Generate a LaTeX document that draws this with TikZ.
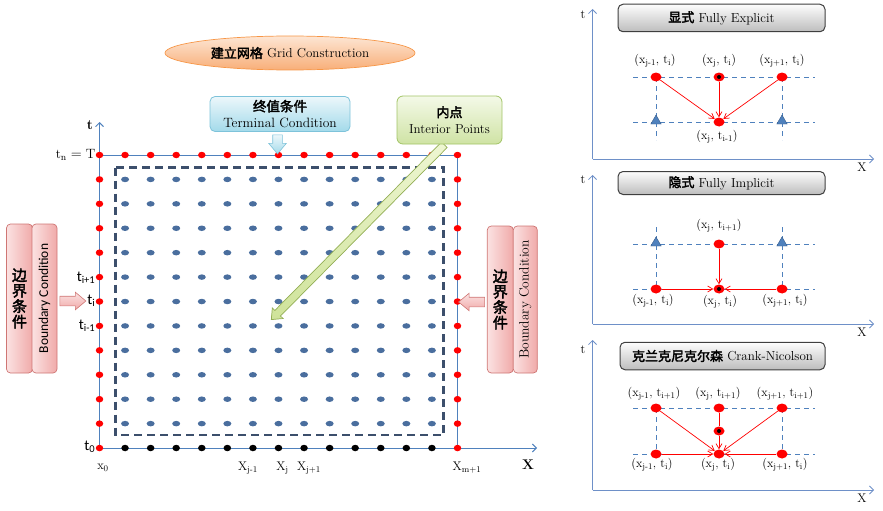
\documentclass[tikz,border=0pt]{standalone}
\usepackage{fontspec}
\newfontfamily\cjkb{Noto Sans CJK SC}[AutoFakeBold=2.5]
\newfontfamily\calfont{Carlito}
\usetikzlibrary{shapes.geometric,shapes.arrows,arrows.meta}
\definecolor{axisblue}{HTML}{4F81BD}
\definecolor{paxis}{HTML}{6E90C8}
\definecolor{dotblue}{HTML}{4A6E9E}
\definecolor{dashslate}{HTML}{3C4F6C}
\definecolor{gridred}{HTML}{FF0000}
\definecolor{ellB}{HTML}{F79646}
\definecolor{ellT}{HTML}{FDE6D4}
\definecolor{ellM}{HTML}{F8AE78}
\definecolor{termB}{HTML}{7EC3DA}
\definecolor{termT}{HTML}{ECF7FB}
\definecolor{termM}{HTML}{A3DAEA}
\definecolor{intB}{HTML}{A2C466}
\definecolor{intT}{HTML}{F4F9E8}
\definecolor{intM}{HTML}{CFE3A4}
\definecolor{bcB}{HTML}{CF7674}
\definecolor{bcT}{HTML}{FBE2E2}
\definecolor{bcM}{HTML}{F0AAA9}
\definecolor{grT}{HTML}{FDFDFD}
\definecolor{grM}{HTML}{BDBDBD}
\definecolor{grB}{HTML}{3F3F3F}
\definecolor{triB}{HTML}{385D8A}
\definecolor{gaT}{HTML}{EEF6D2}
\definecolor{gaM}{HTML}{CFE39A}
\definecolor{gaB}{HTML}{93AE55}
\begin{document}
\begin{tikzpicture}[x=1pt,y=-1pt,
  reddot/.style={ellipse,fill=gridred,inner sep=0,minimum width=7.5,minimum height=6.5},
  bluedot/.style={ellipse,fill=dotblue,inner sep=0,minimum width=8,minimum height=5.5},
  blackdot/.style={ellipse,fill=black,inner sep=0,minimum width=7.5,minimum height=6.5},
  pdot/.style={ellipse,fill=gridred,inner sep=0,minimum width=11,minimum height=9},
  ptri/.style={regular polygon,regular polygon sides=3,fill=axisblue,draw=triB,line width=0.4pt,inner sep=0,minimum size=12},
  pdash/.style={axisblue,line width=0.6pt,dash pattern=on 5pt off 4pt},
  paxisline/.style={paxis,line width=0.8pt,-{Straight Barb[length=4pt,width=8pt]}},
  redarrow/.style={gridred,line width=0.7pt,-{Straight Barb[length=5pt,width=6pt]}},
  plab/.style={font=\fontsize{12.3}{13}\selectfont,inner sep=0},
  glab/.style={font=\fontsize{12.5}{14}\selectfont,inner sep=0},
  slab/.style={font=\calfont\fontsize{15}{16}\selectfont,inner sep=0},
  gbox/.style={draw=grB,line width=1pt,rounded corners=5pt,top color=grT,bottom color=grM,minimum width=207,inner sep=0,font=\fontsize{13}{14}\selectfont},
  bcbox/.style={draw=bcB,line width=0.7pt,rounded corners=4pt,left color=bcT,right color=bcM,inner sep=0},
  blockarrow/.style={single arrow,inner sep=0,single arrow head extend=4pt,single arrow tip angle=80}
]
\useasboundingbox (0,0) rectangle (883,511);

% ---------- title ----------
\node[ellipse,draw=ellB,line width=0.7pt,top color=ellT,bottom color=ellM,minimum width=250,minimum height=34,inner sep=0,font=\fontsize{13}{14}\selectfont] (title) at (290,53) {{\cjkb\bfseries 建立网格} Grid Construction};

% ---------- grid axes ----------
\coordinate (o) at (99.5,448);
\coordinate (tend) at (99.5,122);
\coordinate (xend) at (537,448);
\coordinate (tl) at (99.5,155);
\coordinate (tr) at (457.5,155);
\coordinate (br) at (457.5,448);
\draw[axisblue,line width=0.9pt,-{Straight Barb[length=4pt,width=8pt]}] (o) -- (tend);
\draw[axisblue,line width=0.9pt,-{Straight Barb[length=4pt,width=8pt]}] (o) -- (xend);
\draw[axisblue,line width=0.9pt] (tl) -- (tr) -- (br);
\node[font=\bfseries\fontsize{14}{14}\selectfont,inner sep=0] (tlab) at (90,125) {t};
\node[font=\bfseries\fontsize{14}{14}\selectfont,inner sep=0] (xlab) at (528,465) {X};

% dashed interior frame
\draw[dashslate,line width=2.2pt,dash pattern=on 8pt off 5pt] (115.5,167.5) rectangle (443.5,435);

% ---------- grid dots ----------
\foreach \j in {0,...,14}{
  \node[reddot] (g-\j-0) at ({99.5+25.57*\j},155) {};
}
\foreach \i in {1,...,12}{
  \node[reddot] (g-0-\i) at (99.5,{155+24.42*\i}) {};
  \node[reddot] (g-14-\i) at (457.5,{155+24.42*\i}) {};
}
\foreach \i in {1,...,11}{
  \foreach \j in {1,...,13}{
    \node[bluedot] (g-\j-\i) at ({99.5+25.57*\j},{155+24.42*\i}) {};
  }
}
\foreach \j in {1,...,13}{
  \node[blackdot] (g-\j-12) at ({99.5+25.57*\j},448) {};
}

% ---------- grid labels ----------
\node[glab,anchor=east,font=\fontsize{13.5}{14}\selectfont] (ltn) at (95.5,155) {$\mathrm{t_n = T}$};
\node[slab,anchor=east] (ltip) at (95.5,277.5) {t\textsubscript{i+1}};
\node[slab,anchor=east] (lti) at (95.5,301) {t\textsubscript{i}};
\node[slab,anchor=east] (ltim) at (95.5,326) {t\textsubscript{i-1}};
\node[slab,anchor=east] (lt0) at (95.5,447) {t\textsubscript{0}};
\node[glab] (lx0) at (103,468) {x\textsubscript{0}};
\node[glab] (lxjm) at (248,468) {X\textsubscript{j-1}};
\node[glab] (lxj) at (282.5,468) {X\textsubscript{j}};
\node[glab] (lxjp) at (309,468) {X\textsubscript{j+1}};
\node[glab] (lxm) at (467,468) {X\textsubscript{m+1}};

% ---------- terminal condition ----------
\node[draw=termB,line width=0.8pt,rounded corners=5pt,top color=termT,bottom color=termM,minimum width=140,minimum height=35,inner sep=0,align=center,font=\fontsize{13.5}{16.5}\selectfont] (term) at (280,114) {{\cjkb\bfseries 终值条件}\\Terminal Condition};
\node[blockarrow,draw=termB,line width=0.6pt,top color=termT,bottom color=termM,inner ysep=4.5pt,minimum height=19,rotate=-90] (tarrow) at (277.5,141.5) {};

% ---------- interior points ----------
\node[blockarrow,draw=gaB,line width=0.7pt,top color=gaT,bottom color=gaM,inner ysep=3.6pt,single arrow head extend=3.6pt,single arrow tip angle=80,minimum height=246,rotate=225.3] (iarrow) at (359.5,230.5) {};
\node[draw=intB,line width=0.8pt,rounded corners=6pt,top color=intT,bottom color=intM,minimum width=105,minimum height=48,inner sep=0,align=center,font=\fontsize{13}{16.5}\selectfont] (intp) at (449.5,120) {{\cjkb\bfseries 内点}\\Interior Points};

% ---------- boundary conditions ----------
\node[bcbox,minimum width=26,minimum height=149,align=center,font=\cjkb\bfseries\fontsize{15}{15.5}\selectfont] (bcl1) at (19.5,298.5) {边\\界\\条\\件};
\node[bcbox,minimum width=149,minimum height=25,rotate=90,font=\calfont\fontsize{13.5}{14}\selectfont] (bcl2) at (44.5,298.5) {Boundary Condition};
\node[blockarrow,draw=bcB,line width=0.6pt,top color=bcT,bottom color=bcM,inner ysep=4.5pt,minimum height=26] (bcla) at (70,301) {};

\node[bcbox,minimum width=26,minimum height=147,align=center,font=\cjkb\bfseries\fontsize{15}{15.5}\selectfont] (bcr1) at (500.3,299.5) {边\\界\\条\\件};
\node[bcbox,minimum width=147,minimum height=24,rotate=90,font=\fontsize{13.5}{14}\selectfont] (bcr2) at (525.3,299.5) {Boundary Condition};
\node[blockarrow,draw=bcB,line width=0.6pt,top color=bcT,bottom color=bcM,inner ysep=4.5pt,minimum height=26,rotate=180] (bcra) at (474.5,302) {};

% ================= panel 1 : explicit =================
\coordinate (o1) at (592.5,159);
\coordinate (t1) at (592.5,9);
\coordinate (x1) at (874,159);
\draw[paxisline] (o1) -- (t1);
\draw[paxisline] (o1) -- (x1);
\node[glab] (p1t) at (583,15) {t};
\node[glab] (p1x) at (862,167) {X};
\node[gbox,minimum height=27.5] (p1title) at (721.5,18) {{\cjkb\bfseries 显式} Fully Explicit};
\draw[pdash] (633,77) -- (815,77);
\draw[pdash] (633,122) -- (815,122);
\draw[pdash] (656,77) -- (656,140);
\draw[pdash] (782,77) -- (782,140);
\node[pdot] (e-tl) at (656,77) {};
\node[pdot] (e-tm) at (719,77) {};
\node[pdot] (e-tr) at (782,77) {};
\node[ptri] (e-bl) at (656,121) {};
\node[pdot] (e-bm) at (719,122) {};
\node[ptri] (e-br) at (782,121) {};
\draw[redarrow] (e-tl) -- (e-bm);
\draw[redarrow] (e-tm) -- (e-bm);
\draw[redarrow] (e-tr) -- (e-bm);
\fill[black] (e-tm.center) circle (2);
\node[plab] (e-l1) at (655,61) {(x\textsubscript{j-1}, t\textsubscript{i})};
\node[plab] (e-l2) at (719,61) {(x\textsubscript{j}, t\textsubscript{i})};
\node[plab] (e-l3) at (782,61) {(x\textsubscript{j+1}, t\textsubscript{i})};
\node[plab] (e-l4) at (717,137) {(x\textsubscript{j}, t\textsubscript{i-1})};

% ================= panel 2 : implicit =================
\coordinate (o2) at (592.5,324);
\coordinate (t2) at (592.5,175);
\coordinate (x2) at (874,324);
\draw[paxisline] (o2) -- (t2);
\draw[paxisline] (o2) -- (x2);
\node[glab] (p2t) at (583,180) {t};
\node[glab] (p2x) at (862,332) {X};
\node[gbox,minimum height=23] (p2title) at (721.5,183) {{\cjkb\bfseries 隐式} Fully Implicit};
\draw[pdash] (633,244) -- (815,244);
\draw[pdash] (633,289) -- (815,289);
\draw[pdash] (656,227) -- (656,289);
\draw[pdash] (782,227) -- (782,289);
\node[ptri] (i-tl) at (656,243) {};
\node[pdot] (i-tm) at (719,244) {};
\node[ptri] (i-tr) at (782,243) {};
\node[pdot] (i-bl) at (656,289) {};
\node[pdot] (i-bm) at (719,289) {};
\node[pdot] (i-br) at (782,289) {};
\draw[redarrow] (i-tm) -- (i-bm);
\draw[redarrow] (i-bl) -- (i-bm);
\draw[redarrow] (i-br) -- (i-bm);
\fill[black] (i-bm.center) circle (2);
\node[plab] (i-l1) at (719,226) {(x\textsubscript{j}, t\textsubscript{i+1})};
\node[plab] (i-l2) at (653,301) {(x\textsubscript{j-1}, t\textsubscript{i})};
\node[plab] (i-l3) at (720,302) {(x\textsubscript{j}, t\textsubscript{i})};
\node[plab] (i-l4) at (785,301) {(x\textsubscript{j+1}, t\textsubscript{i})};

% ================= panel 3 : Crank-Nicolson =================
\coordinate (o3) at (592.5,490);
\coordinate (t3) at (592.5,340);
\coordinate (x3) at (874,490);
\draw[paxisline] (o3) -- (t3);
\draw[paxisline] (o3) -- (x3);
\node[glab] (p3t) at (583,350) {t};
\node[glab] (p3x) at (862,498) {X};
\node[gbox,minimum width=205,minimum height=27.5] (p3title) at (722.5,356) {{\cjkb\bfseries 克兰克尼克尔森} Crank-Nicolson};
\draw[pdash] (633,408) -- (815,408);
\draw[pdash] (633,454) -- (815,454);
\draw[pdash] (656,408) -- (656,454);
\draw[pdash] (782,408) -- (782,454);
\node[pdot] (c-tl) at (656,408) {};
\node[pdot] (c-tm) at (719,408) {};
\node[pdot] (c-tr) at (782,408) {};
\node[pdot] (c-mid) at (719,431) {};
\node[pdot] (c-bl) at (656,454) {};
\node[pdot] (c-bm) at (719,454) {};
\node[pdot] (c-br) at (782,454) {};
\draw[redarrow] (c-tl) -- (c-bm);
\draw[redarrow] (c-tm) -- (c-mid) -- (c-bm);
\draw[redarrow] (c-tr) -- (c-bm);
\draw[redarrow] (c-bl) -- (c-bm);
\draw[redarrow] (c-br) -- (c-bm);
\fill[black] (c-mid.center) circle (2);
\node[plab] (c-l1) at (654,394) {(x\textsubscript{j-1}, t\textsubscript{i+1})};
\node[plab] (c-l2) at (718,394) {(x\textsubscript{j}, t\textsubscript{i+1})};
\node[plab] (c-l3) at (785,394) {(x\textsubscript{j+1}, t\textsubscript{i+1})};
\node[plab] (c-l4) at (652,465) {(x\textsubscript{j-1}, t\textsubscript{i})};
\node[plab] (c-l5) at (718,465) {(x\textsubscript{j}, t\textsubscript{i})};
\node[plab] (c-l6) at (785,465) {(x\textsubscript{j+1}, t\textsubscript{i})};
\end{tikzpicture}
\end{document}
